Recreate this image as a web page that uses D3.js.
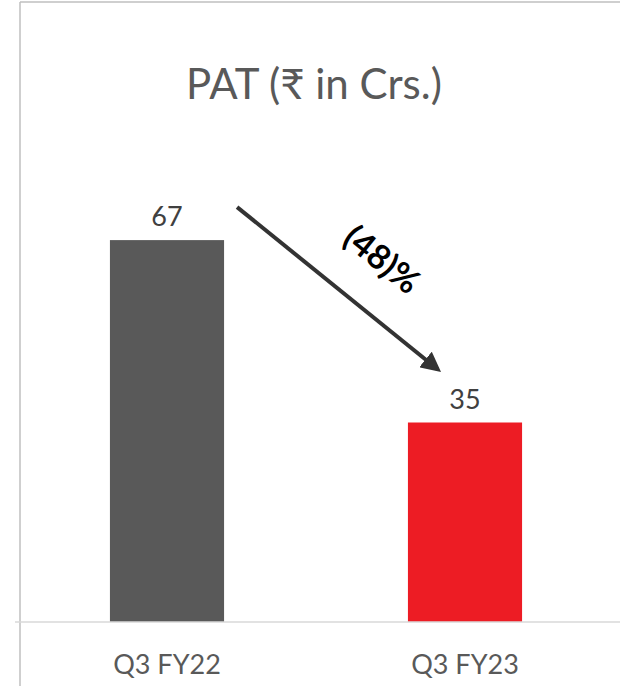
<!DOCTYPE html>
<html>
<head>
<meta charset="utf-8">
<script src="https://cdn.jsdelivr.net/npm/d3@7"></script>
<style>
  body { margin: 0; background: #fff; }
  text { font-family: Lato, "Noto Sans", sans-serif; }
</style>
</head>
<body>
<svg id="chart" width="620" height="686"></svg>
<script>
// donnees
var categories = ["Q3 FY22", "Q3 FY23"];
var values = [67, 35];
var barColors = ["#595959", "#ed1c24"];
var changeLabel = "(48)%";

var svg = d3.select("#chart"),
    width = +svg.attr("width"),
    height = +svg.attr("height");

// cadre
svg.append("line").attr("x1", 20).attr("x2", 620).attr("y1", 2).attr("y2", 2)
    .attr("stroke", "#bfbfbf").attr("stroke-width", 1.5);
svg.append("line").attr("x1", 20).attr("x2", 20).attr("y1", 2).attr("y2", height)
    .attr("stroke", "#bfbfbf").attr("stroke-width", 1.5);

// titre
svg.append("text")
    .attr("x", 314).attr("y", 99)
    .attr("text-anchor", "middle")
    .attr("font-size", 42)
    .attr("fill", "#595959")
    .text("PAT (₹ in Crs.)");

var x = d3.scaleBand().domain(categories).range([18, 614])
    .paddingInner(0.617).paddingOuter(0.3085);
var y = d3.scaleLinear().domain([0, 80]).range([622, 166]);

var g = svg.append("g");

g.selectAll(".bar")
    .data(values)
    .enter().append("rect")
    .attr("class", "bar")
    .attr("x", function (d, i) { return x(categories[i]); })
    .attr("y", function (d) { return y(d); })
    .attr("width", x.bandwidth())
    .attr("height", function (d) { return y(0) - y(d); })
    .attr("fill", function (d, i) { return barColors[i]; });

// etiquettes des valeurs
g.selectAll(".lbl")
    .data(values)
    .enter().append("text")
    .attr("class", "lbl")
    .attr("x", function (d, i) { return x(categories[i]) + x.bandwidth() / 2; })
    .attr("y", function (d) { return y(d) - 14; })
    .attr("text-anchor", "middle")
    .attr("font-size", 27)
    .attr("fill", "#404040")
    .text(function (d) { return d; });

// axe
svg.append("line").attr("x1", 15).attr("x2", 620).attr("y1", y(0)).attr("y2", y(0))
    .attr("stroke", "#d9d9d9").attr("stroke-width", 1.5);

g.selectAll(".cat")
    .data(categories)
    .enter().append("text")
    .attr("class", "cat")
    .attr("x", function (d) { return x(d) + x.bandwidth() / 2; })
    .attr("y", 674)
    .attr("text-anchor", "middle")
    .attr("font-size", 27)
    .attr("fill", "#595959")
    .text(function (d) { return d; });

// fleche de variation
svg.append("defs").append("marker")
    .attr("id", "arrow")
    .attr("viewBox", "0 0 10 10")
    .attr("refX", 8).attr("refY", 5)
    .attr("markerWidth", 5).attr("markerHeight", 5)
    .attr("orient", "auto")
    .append("path").attr("d", "M0,0 L10,5 L0,10 z").attr("fill", "#333");

var x0 = x(categories[0]) + x.bandwidth() + 13, y0 = y(values[0]) - 33;
var x1 = x(categories[1]) + 30, y1 = y(values[1]) - 53;
svg.append("line")
    .attr("x1", x0).attr("y1", y0).attr("x2", x1).attr("y2", y1)
    .attr("stroke", "#333").attr("stroke-width", 4)
    .attr("marker-end", "url(#arrow)");

var angle = Math.atan2(y1 - y0, x1 - x0) * 180 / Math.PI;
svg.append("text")
    .attr("transform", "translate(380,262) rotate(" + angle + ")")
    .attr("text-anchor", "middle")
    .attr("dominant-baseline", "middle")
    .attr("font-size", 34)
    .attr("font-weight", "bold")
    .attr("fill", "#000")
    .text(changeLabel);
</script>
</body>
</html>
